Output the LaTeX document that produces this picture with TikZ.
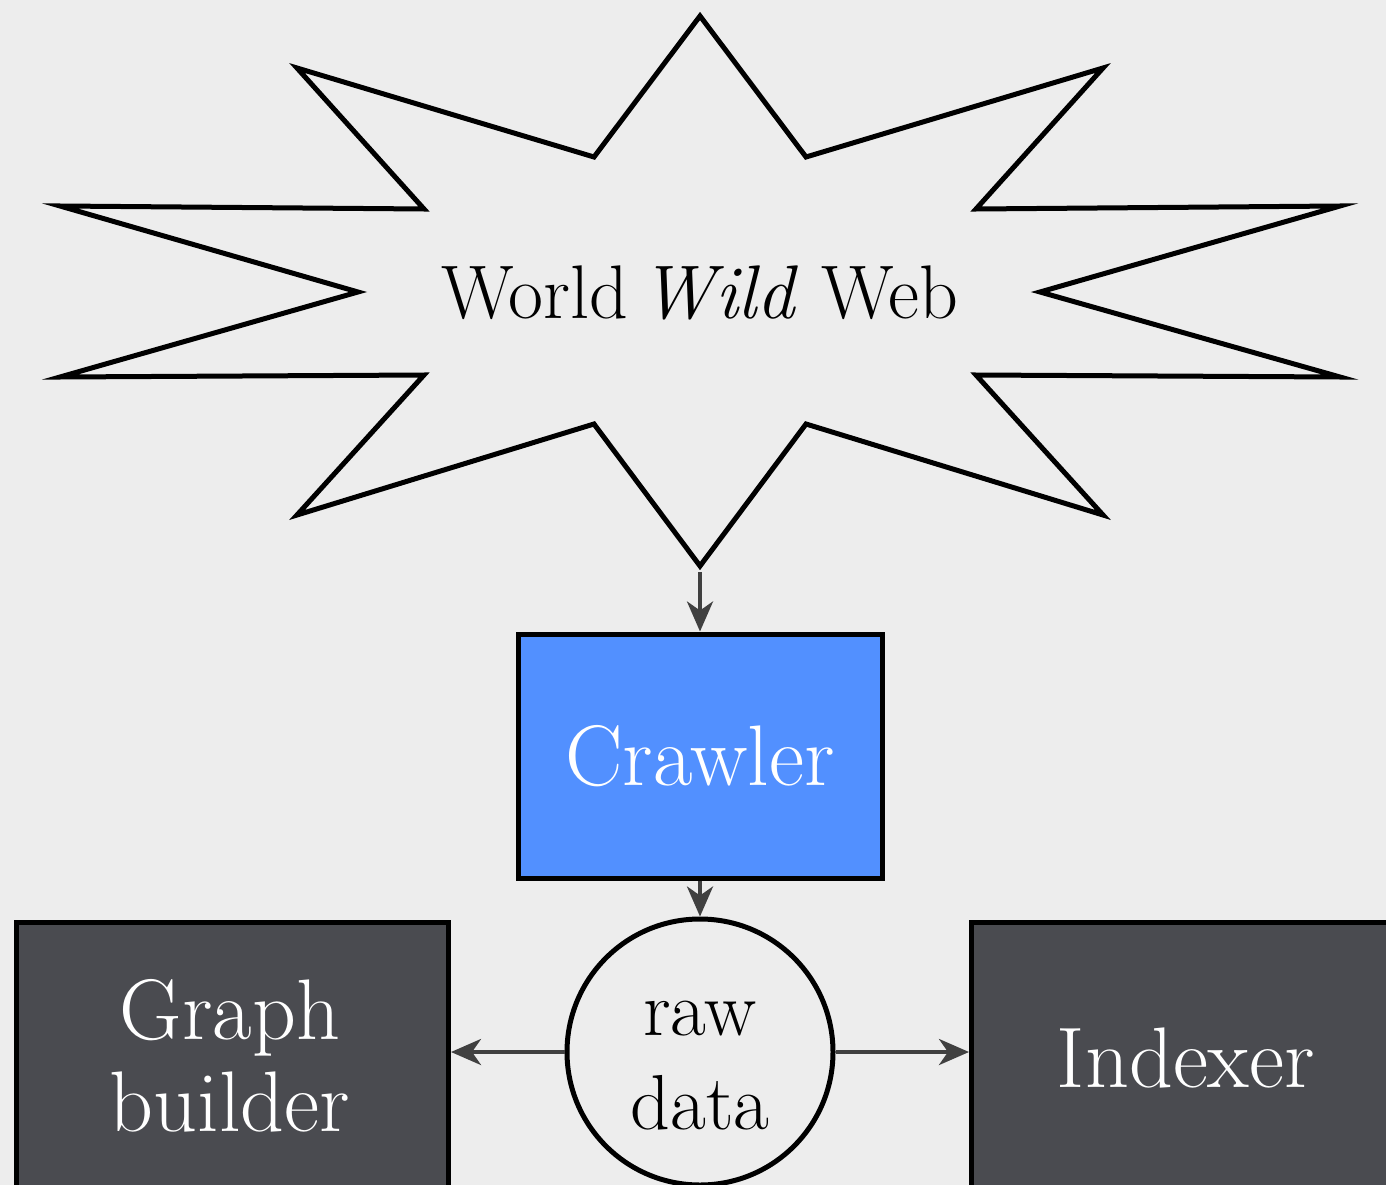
\documentclass[tikz,border=0pt]{standalone}
\usepackage{fontspec}
\usetikzlibrary{arrows.meta}
\definecolor{paper}{HTML}{EDEDED}
\definecolor{crawlblue}{HTML}{5290FF}
\definecolor{slate}{HTML}{4A4B50}
\definecolor{wire}{HTML}{404040}
\tikzset{
  outline/.style={draw=black, line width=5pt, line join=miter},
  flow/.style={draw=wire, line width=4pt, -{Stealth[length=30pt,width=26pt,inset=9pt]}},
  bigtext/.style={font=\fontsize{86}{90}\selectfont},
  darkbox/.style={outline, fill=slate, inner sep=0pt},
  darklabel/.style={text=white, bigtext, align=center},
}
\begin{document}
\begin{tikzpicture}[x=1pt,y=-1pt]
  \useasboundingbox (0,0) rectangle (1386,1185);
  \clip (0,0) rectangle (1386,1185);
  \fill[paper] (0,0) rectangle (1386,1185);

  % the web as a ten-pointed burst
  \draw[outline] (700,16) -- (806,157) -- (1103,68) -- (976,209) -- (1340,206)
    -- (1040,292) -- (1340,377) -- (976,375) -- (1103,515) -- (806,424)
    -- (700,566) -- (594,424) -- (297,515) -- (424,375) -- (60,377)
    -- (358,292) -- (60,206) -- (424,209) -- (297,68) -- (594,157) -- cycle;
  \node (web) at (700,293) {\fontsize{76}{80}\selectfont World\,\textit{Wild} Web};
  \coordinate (webtip) at (700,572);

  % pipeline stages
  \node[outline, fill=crawlblue, text=white, bigtext, minimum width=364pt,
        minimum height=244pt, inner sep=0pt] (crawler) at (700,756) {Crawler};
  \node[outline, circle, minimum size=266pt, inner sep=0pt] (raw) at (700,1052) {};
  \node[align=center, font=\fontsize{78}{82}\selectfont] (rawlabel) at (700,1066) {raw\\[12pt]data};
  \node[darkbox, minimum width=432pt, minimum height=330pt,
        anchor=north west] (graph) at (14,920) {};
  \node[darklabel] (graphlabel) at (230,1056) {Graph\\[2pt]builder};
  \node[darkbox, minimum width=460pt, minimum height=330pt,
        anchor=north west] (indexer) at (969,920) {};
  \node[darklabel] (indexerlabel) at (1186,1058) {Indexer};

  % connectors
  \draw[flow] (webtip) -- (crawler.north);
  \draw[flow] (crawler.south) -- (raw.north);
  \draw[flow] (raw.west) -- (raw.west -| graph.east);
  \draw[flow] (raw.east) -- (raw.east -| indexer.west);
\end{tikzpicture}
\end{document}
